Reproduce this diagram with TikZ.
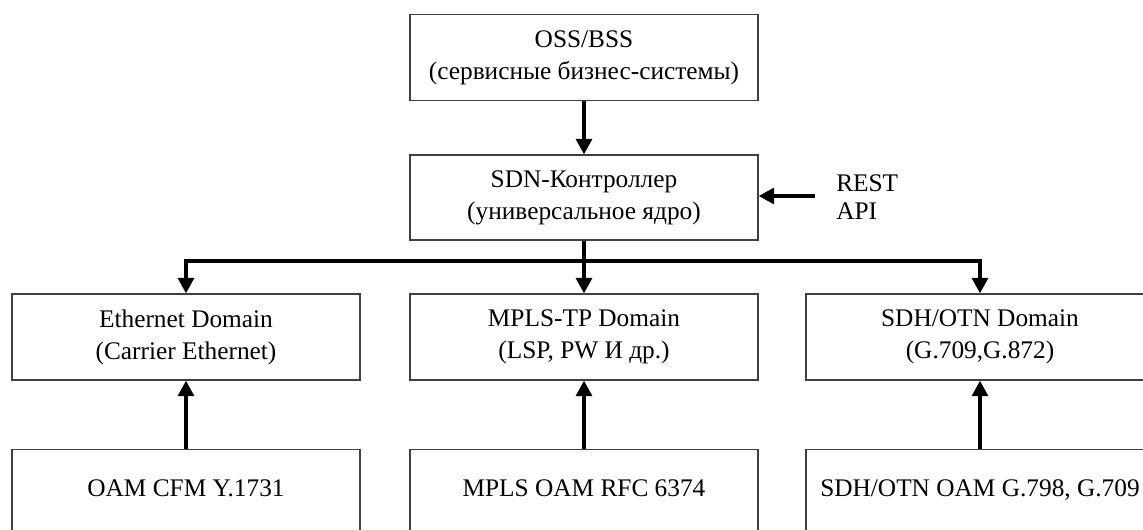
\documentclass[tikz,border=0pt]{standalone}
\usepackage{fontspec}
\setmainfont{Liberation Serif}
\usetikzlibrary{arrows.meta}
\begin{document}
\begin{tikzpicture}[x=0.75pt,y=-0.75pt,
  box/.style={draw=black!75,line width=1.1pt,rectangle,minimum width=261pt,inner sep=0pt,align=center,
     font=\fontsize{19}{24}\selectfont},
  tbox/.style={box,minimum height=64.5pt},
  obox/.style={box,anchor=north,text height=35pt,text depth=33pt},
  arr/.style={line width=2.3pt,-{Triangle[length=11.5pt,width=12pt]}},
  lbl/.style={align=left,inner sep=0pt,font=\fontsize{19}{21}\selectfont}]
\useasboundingbox[clip] (0,0) rectangle (1143,529);
\node[tbox] (oss) at (584,57.5) {OSS/BSS\\(сервисные бизнес-системы)};
\node[tbox,minimum height=63.75pt] (sdn) at (584,197.5) {SDN-Контроллер\\(универсальное ядро)};
\node[lbl,anchor=west] (rest) at (836,197) {REST\\API};
\node[tbox] (eth) at (186,337) {Ethernet Domain\\(Carrier Ethernet)};
\node[tbox] (mpls) at (584,337) {MPLS-TP Domain\\(LSP, PW И др.)};
\node[tbox] (sdh) at (980,337) {SDH/OTN Domain\\(G.709,G.872)};
\node[obox] (oeth) at (186,449) {OAM CFM Y.1731};
\node[obox] (ompls) at (584,449) {MPLS OAM RFC 6374};
\node[obox] (osdh) at (980,449) {SDH/OTN OAM G.798, G.709};
\coordinate (j) at (584,261);
\coordinate (rs) at (815,196);
\draw[arr] (oss) -- (sdn);
\draw[arr] (rs) -- (sdn.east |- rs);
\draw[line width=2.3pt] (sdn.south) -- (j);
\draw[arr] (j) -| (eth.north);
\draw[arr] (j) -- (mpls.north);
\draw[arr] (j) -| (sdh.north);
\draw[arr] (oeth) -- (eth);
\draw[arr] (ompls) -- (mpls);
\draw[arr] (osdh) -- (sdh);
\end{tikzpicture}
\end{document}
